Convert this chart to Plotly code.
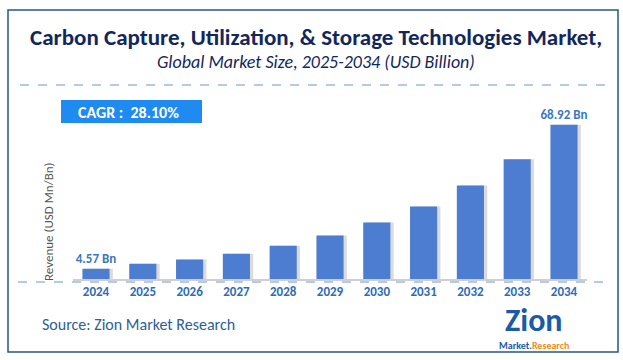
import plotly.graph_objects as go

years = ["2024", "2025", "2026", "2027", "2028", "2029", "2030", "2031", "2032", "2033", "2034"]
values = [4.57, 6.8, 8.7, 11.3, 14.9, 19.4, 25.2, 32.4, 41.8, 53.5, 68.92]
value_labels = ["4.57 Bn", "", "", "", "", "", "", "", "", "", "68.92 Bn"]

title = "Carbon Capture, Utilization, & Storage Technologies Market,"
subtitle = "Global Market Size, 2025-2034 (USD Billion)"
cagr_text = "CAGR :  28.10%"
y_title = "Revenue (USD Mn/Bn)"
source = "Source: Zion Market Research"

W, H = 623, 360
def px(x):
    return x / W
def py(y):
    return (H - y) / H

FONT = "Carlito, Liberation Sans Narrow, Lato, Arial"
BAR = "#4d7dd0"
LABEL = "#3a78c0"

fig = go.Figure()
# soft shadow behind each bar
fig.add_trace(go.Bar(
    x=years, y=values, width=0.58, offset=-0.22,
    marker=dict(color="rgba(90,90,90,0.22)", line=dict(width=0)),
    hoverinfo="skip", showlegend=False,
))
fig.add_trace(go.Bar(
    x=years, y=values, width=0.58, offset=-0.29,
    marker=dict(color=BAR, line=dict(width=0)),
    text=value_labels, textposition="outside", cliponaxis=False, constraintext="none",
    textfont=dict(family=FONT, size=13, color=LABEL, weight="bold"),
    showlegend=False,
))

fig.update_layout(
    width=W, height=H,
    margin=dict(l=0, r=0, t=0, b=0),
    paper_bgcolor="white", plot_bgcolor="white",
    barmode="overlay",
    xaxis=dict(
        domain=[px(72.6), px(587.4)], type="category",
        showline=True, linecolor="#cfcfcf", linewidth=1.5,
        showgrid=False, ticks="",
        tickfont=dict(family=FONT, size=13, color="#2f6cb5", weight="bold"),
    ),
    yaxis=dict(
        domain=[py(279), py(100)], range=[0, 80],
        visible=False, showgrid=False,
    ),
    shapes=[
        dict(type="rect", xref="paper", yref="paper",
             x0=px(8), x1=px(618), y0=py(352), y1=py(10),
             line=dict(color="#2a5582", width=1.5), fillcolor="rgba(0,0,0,0)", layer="above"),
        dict(type="line", xref="paper", yref="paper",
             x0=px(20), x1=px(610), y0=py(85), y1=py(85),
             line=dict(color="#6f93d3", width=1.2, dash="dash")),
        dict(type="line", xref="paper", yref="paper",
             x0=px(18), x1=px(607), y0=py(282), y1=py(282),
             line=dict(color="#6f93d3", width=1.2, dash="dash")),
        dict(type="rect", xref="paper", yref="paper",
             x0=px(61), x1=px(202), y0=py(123), y1=py(100),
             line=dict(width=0), fillcolor="#1f8af0"),
    ],
    annotations=[
        dict(text="<b>" + title + "</b>", x=px(316), y=py(37), xref="paper", yref="paper",
             showarrow=False, xanchor="center", yanchor="middle",
             font=dict(family=FONT, size=23, color="#14275c")),
        dict(text="<i>" + subtitle + "</i>", x=px(316), y=py(62), xref="paper", yref="paper",
             showarrow=False, xanchor="center", yanchor="middle",
             font=dict(family=FONT, size=18, color="#14275c")),
        dict(text="<b>" + cagr_text + "</b>", x=px(128), y=py(112), xref="paper", yref="paper",
             showarrow=False, xanchor="center", yanchor="middle",
             font=dict(family=FONT, size=16, color="white")),
        dict(text=y_title, x=px(48), y=py(222), xref="paper", yref="paper",
             showarrow=False, textangle=-90, xanchor="center", yanchor="middle",
             font=dict(family=FONT, size=13, color="#555555")),
        dict(text=source, x=px(40), y=py(324), xref="paper", yref="paper",
             showarrow=False, xanchor="left", yanchor="middle",
             font=dict(family=FONT, size=16, color="#2d5f95")),
        dict(text="<b>Zion</b>", x=px(534), y=py(320), xref="paper", yref="paper",
             showarrow=False, xanchor="center", yanchor="middle",
             font=dict(family=FONT, size=32, color="#1b5aa8")),
        dict(text="<b>Market.<span style='color:#f08a1c'>Research</span></b>",
             x=px(534), y=py(345), xref="paper", yref="paper",
             showarrow=False, xanchor="center", yanchor="middle",
             font=dict(family=FONT, size=10, color="#1b5aa8")),
    ],
)

fig.write_html("out.html", config={"displayModeBar": False},
               post_script="document.body.style.margin='0';document.body.style.overflow='hidden';")
